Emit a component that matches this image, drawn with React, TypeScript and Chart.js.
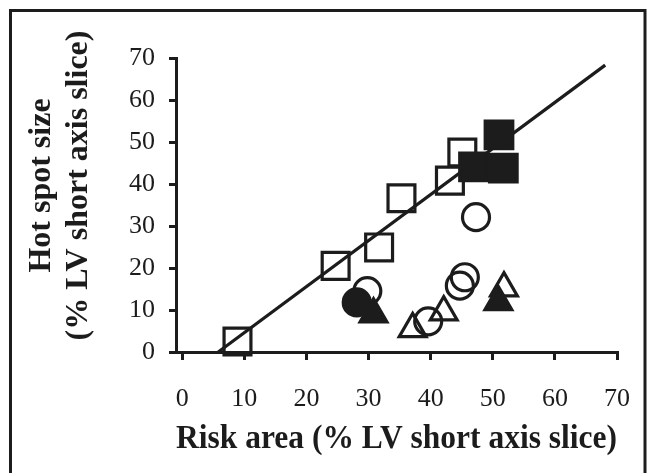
import React, { useEffect, useRef } from 'react';
import { Chart, registerables } from 'chart.js';

Chart.register(...registerables);

// ---- data ----
const X_TICKS = [0, 10, 20, 30, 40, 50, 60, 70];
const Y_TICKS = [0, 10, 20, 30, 40, 50, 60, 70];

const OPEN_SQ_X = [8.9, 24.7, 31.7, 35.3, 43.1, 45.1];
const OPEN_SQ_Y = [2.5, 20.5, 24.9, 36.6, 40.8, 47.5];

const FILLED_SQ_X = [51.0, 46.9, 51.7];
const FILLED_SQ_Y = [51.7, 44.1, 43.8];

const OPEN_CIRC_X = [47.3, 29.8, 45.5, 44.7, 39.6];
const OPEN_CIRC_Y = [32.1, 14.5, 17.8, 15.8, 7.3];

const FILLED_CIRC_X = [28.1];
const FILLED_CIRC_Y = [11.8];

const OPEN_TRI_X = [37.1, 42.1, 51.8];
const OPEN_TRI_Y = [5.5, 9.5, 15.2];

const FILLED_TRI_X = [30.8, 50.9];
const FILLED_TRI_Y = [9.0, 11.9];

const FIT_X = [5.8, 68.1];
const FIT_Y = [0, 68.3];

const X_TITLE = 'Risk area (% LV short axis slice)';
const Y_TITLE = ['Hot spot size', '(% LV short axis slice)'];

const INK = '#1c1c1c';
const FONT = '"Liberation Serif", "Times New Roman", serif';

const pts = (xs: number[], ys: number[]) => xs.map((x, i) => ({ x, y: ys[i] }));

const framePlugin = {
  id: 'frame',
  afterDraw(chart: any) {
    const ctx = chart.ctx;
    ctx.save();
    ctx.strokeStyle = INK;
    ctx.lineWidth = 3;
    ctx.strokeRect(10.5, 10.5, 634.5, 520);
    ctx.restore();
  },
};

const yTitlePlugin = {
  id: 'yTitle',
  afterDraw(chart: any) {
    const { ctx, chartArea } = chart;
    const cy = (chartArea.top + chartArea.bottom) / 2 - 19.5;
    const xs = [42, 79];
    ctx.save();
    ctx.fillStyle = INK;
    ctx.font = `bold 32px ${FONT}`;
    ctx.textAlign = 'center';
    ctx.textBaseline = 'middle';
    Y_TITLE.forEach((t, i) => {
      ctx.save();
      ctx.translate(xs[i], cy);
      ctx.rotate(-Math.PI / 2);
      ctx.fillText(t, 0, 0);
      ctx.restore();
    });
    ctx.restore();
  },
};

const zeroPad = (s: any) => {
  s.paddingLeft = 0;
  s.paddingRight = 0;
  s.paddingTop = 0;
  s.paddingBottom = 0;
};

export default function App() {
  const ref = useRef<HTMLCanvasElement | null>(null);

  useEffect(() => {
    if (!ref.current) return;
    const marker = (style: string, r: number, filled: boolean) => ({
      pointStyle: style,
      pointRadius: r,
      pointHoverRadius: r,
      pointBorderWidth: 3.2,
      pointBorderColor: INK,
      pointBackgroundColor: filled ? INK : 'rgba(0,0,0,0)',
      borderColor: INK,
      backgroundColor: filled ? INK : 'rgba(0,0,0,0)',
      clip: false as any,
    });

    const chart = new Chart(ref.current, {
      type: 'scatter',
      data: {
        datasets: [
          {
            data: pts(FIT_X, FIT_Y),
            showLine: true,
            borderColor: INK,
            borderWidth: 3.2,
            pointRadius: 0,
            pointHoverRadius: 0,
            clip: false as any,
          } as any,
          { data: pts(FILLED_TRI_X, FILLED_TRI_Y), ...marker('triangle', 15.5, true) },
          { data: pts(FILLED_CIRC_X, FILLED_CIRC_Y), ...marker('circle', 13.5, true) },
          { data: pts(FILLED_SQ_X, FILLED_SQ_Y), ...marker('rect', 19.5, true) },
          { data: pts(OPEN_CIRC_X, OPEN_CIRC_Y), ...marker('circle', 13.5, false) },
          { data: pts(OPEN_TRI_X, OPEN_TRI_Y), ...marker('triangle', 15.5, false) },
          { data: pts(OPEN_SQ_X, OPEN_SQ_Y), ...marker('rect', 19, false) },
        ],
      },
      options: {
        animation: false,
        responsive: true,
        maintainAspectRatio: false,
        devicePixelRatio: 1,
        events: [],
        layout: { padding: { top: 58, right: 34, left: 0, bottom: 0 } },
        plugins: { legend: { display: false }, tooltip: { enabled: false } },
        scales: {
          x: {
            type: 'linear',
            min: -1,
            max: 70,
            afterBuildTicks: (s: any) => {
              s.ticks = X_TICKS.map((v) => ({ value: v }));
            },
            afterFit: (s: any) => {
              s.height = 121;
              zeroPad(s);
            },
            grid: { drawOnChartArea: false, drawTicks: true, tickLength: 8, lineWidth: 3, color: INK },
            border: { display: true, color: INK, width: 3 },
            ticks: {
              color: INK,
              font: { family: FONT, size: 26 },
              padding: 24,
              maxRotation: 0,
              autoSkip: false,
            },
            title: {
              display: true,
              text: X_TITLE,
              color: INK,
              font: { family: FONT, size: 33, weight: 'bold', lineHeight: 1.2 },
              padding: { top: 0, bottom: 14 },
            },
          },
          y: {
            type: 'linear',
            min: 0,
            max: 70,
            afterBuildTicks: (s: any) => {
              s.ticks = Y_TICKS.map((v) => ({ value: v }));
            },
            afterFit: (s: any) => {
              s.width = 176;
              zeroPad(s);
            },
            grid: { drawOnChartArea: false, drawTicks: true, tickLength: 7, lineWidth: 3, color: INK },
            border: { display: true, color: INK, width: 3 },
            ticks: {
              color: INK,
              font: { family: FONT, size: 26 },
              padding: 14,
              autoSkip: false,
            },
            title: { display: false },
          },
        },
      } as any,
      plugins: [framePlugin, yTitlePlugin],
    });
    return () => chart.destroy();
  }, []);

  return (
    <div
      style={{
        position: 'fixed',
        left: 0,
        top: 0,
        width: 651,
        height: 473,
        background: '#fff',
        overflow: 'hidden',
      }}
    >
      <canvas ref={ref} />
    </div>
  );
}
